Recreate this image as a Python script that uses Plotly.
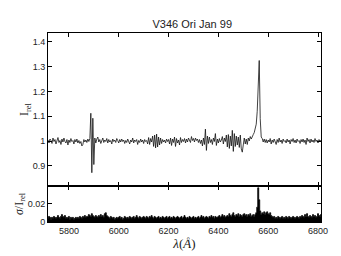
import numpy as np
import plotly.graph_objects as go
from plotly.subplots import make_subplots

# wavelength grid (Angstrom), 4 A sampling
wl_start, wl_step, n_pts = 5716, 4, 275
wavelength = wl_start + wl_step * np.arange(n_pts)

# relative intensity
flux = [
    1.004, 0.992, 1.008, 1.002, 0.990, 1.012, 0.998, 1.006, 0.988, 1.004,
    1.014, 0.994, 1.002, 0.986, 1.008, 0.996, 1.012, 0.998, 0.992, 1.006,
    0.984, 1.004, 0.994, 1.010, 0.998, 1.002, 0.988, 1.006, 0.996, 1.008,
    0.992, 1.002, 0.990, 0.998, 0.980, 0.986, 1.006, 0.996, 1.004, 0.994,
    1.008, 0.998, 1.010, 1.112, 0.872, 1.092, 0.905, 1.012, 0.992, 1.008,
    1.016, 0.996, 1.006, 0.990, 1.002, 1.012, 0.994, 1.004, 0.998, 1.010,
    0.992, 1.006, 0.996, 1.002, 0.988, 1.008, 0.998, 1.004, 0.994, 1.010,
    1.002, 0.992, 1.006, 0.996, 1.008, 0.998, 1.004, 0.990, 1.002, 0.994,
    1.008, 0.998, 0.988, 1.004, 0.996, 1.012, 0.992, 1.004, 0.998, 1.006,
    0.986, 1.002, 0.994, 1.008, 0.996, 1.004, 0.990, 1.006, 0.998, 1.002,
    0.988, 1.014, 0.986, 1.010, 0.996, 1.020, 0.978, 1.024, 0.972, 1.028,
    0.976, 1.016, 0.984, 1.012, 0.990, 1.006, 0.996, 1.004, 0.992, 1.008,
    0.998, 1.006, 0.988, 1.012, 0.982, 1.008, 0.994, 1.016, 0.978, 1.010,
    0.992, 1.004, 0.984, 1.014, 0.994, 1.006, 0.998, 1.010, 0.992, 1.008,
    0.996, 1.012, 1.004, 0.994, 1.018, 1.002, 1.010, 0.996, 1.012, 1.002,
    1.008, 0.994, 1.006, 0.990, 1.004, 0.980, 1.012, 0.986, 1.048, 0.962,
    1.020, 0.990, 1.016, 0.994, 1.006, 0.986, 1.012, 0.998, 1.030, 0.982,
    1.008, 0.992, 1.010, 0.996, 1.004, 1.018, 0.988, 1.012, 0.998, 1.024,
    0.976, 1.026, 0.970, 1.020, 0.980, 1.043, 0.958, 1.030, 0.978, 1.020,
    0.984, 1.016, 0.974, 1.024, 0.968, 0.955, 0.984, 1.012, 0.988, 1.008,
    0.986, 1.012, 1.000, 1.018, 1.008, 1.020, 1.026, 1.034, 1.048, 1.068,
    1.120, 1.240, 1.325, 1.090, 1.016, 1.010, 0.996, 1.008, 0.994, 1.006,
    0.992, 1.004, 0.996, 1.010, 0.988, 1.004, 0.994, 1.008, 0.998, 0.986,
    1.006, 0.994, 1.012, 0.996, 1.004, 0.990, 1.008, 0.998, 1.002, 0.992,
    1.008, 0.996, 1.004, 0.988, 1.006, 0.998, 1.010, 0.994, 1.004, 0.992,
    1.008, 0.998, 1.002, 0.990, 1.006, 0.996, 1.008, 0.994, 1.004, 0.986,
    1.012, 0.998, 1.006, 0.992, 1.008, 0.996, 1.004, 0.994, 1.010, 0.998,
    1.004, 0.992, 1.006, 0.998, 1.004,
]

# sigma / I_rel
sigma = [
    0.004, 0.006, 0.005, 0.003, 0.005, 0.004, 0.006, 0.005, 0.004, 0.005,
    0.007, 0.005, 0.004, 0.006, 0.008, 0.006, 0.005, 0.007, 0.004, 0.005,
    0.004, 0.006, 0.003, 0.005, 0.004, 0.005, 0.003, 0.004, 0.005, 0.004,
    0.005, 0.004, 0.006, 0.005, 0.004, 0.006, 0.005, 0.007, 0.005, 0.006,
    0.006, 0.008, 0.007, 0.006, 0.009, 0.007, 0.006, 0.005, 0.007, 0.006,
    0.005, 0.007, 0.006, 0.008, 0.006, 0.007, 0.005, 0.009, 0.010, 0.007,
    0.006, 0.005, 0.004, 0.006, 0.005, 0.004, 0.005, 0.003, 0.004, 0.005,
    0.004, 0.005, 0.006, 0.004, 0.005, 0.003, 0.004, 0.006, 0.005, 0.004,
    0.005, 0.004, 0.006, 0.005, 0.004, 0.005, 0.006, 0.004, 0.005, 0.007,
    0.005, 0.004, 0.006, 0.005, 0.004, 0.005, 0.006, 0.005, 0.004, 0.006,
    0.005, 0.004, 0.006, 0.005, 0.007, 0.005, 0.004, 0.006, 0.005, 0.004,
    0.005, 0.006, 0.004, 0.005, 0.004, 0.006, 0.005, 0.004, 0.005, 0.006,
    0.004, 0.005, 0.006, 0.004, 0.005, 0.004, 0.006, 0.005, 0.004, 0.005,
    0.006, 0.005, 0.004, 0.005, 0.006, 0.004, 0.005, 0.007, 0.005, 0.004,
    0.005, 0.004, 0.006, 0.005, 0.004, 0.005, 0.006, 0.004, 0.005, 0.004,
    0.005, 0.006, 0.004, 0.005, 0.007, 0.005, 0.006, 0.004, 0.005, 0.006,
    0.005, 0.004, 0.006, 0.005, 0.007, 0.005, 0.006, 0.004, 0.006, 0.005,
    0.005, 0.006, 0.007, 0.005, 0.006, 0.008, 0.006, 0.007, 0.005, 0.006,
    0.007, 0.006, 0.009, 0.007, 0.006, 0.008, 0.010, 0.007, 0.006, 0.008,
    0.007, 0.009, 0.006, 0.008, 0.007, 0.006, 0.008, 0.009, 0.007, 0.008,
    0.006, 0.008, 0.007, 0.009, 0.006, 0.007, 0.008, 0.006, 0.008, 0.010,
    0.016, 0.037, 0.024, 0.012, 0.008, 0.010, 0.009, 0.011, 0.008, 0.010,
    0.011, 0.009, 0.008, 0.010, 0.007, 0.006, 0.005, 0.006, 0.004, 0.005,
    0.004, 0.006, 0.005, 0.004, 0.005, 0.006, 0.004, 0.005, 0.004, 0.006,
    0.005, 0.004, 0.006, 0.005, 0.004, 0.005, 0.006, 0.005, 0.004, 0.005,
    0.006, 0.005, 0.004, 0.006, 0.005, 0.007, 0.006, 0.005, 0.008, 0.006,
    0.009, 0.006, 0.005, 0.007, 0.006, 0.005, 0.008, 0.006, 0.007, 0.005,
    0.006, 0.009, 0.007, 0.006, 0.008,
]

x_ticks = [5800, 6000, 6200, 6400, 6600, 6800]
y1_ticks = [0.9, 1.0, 1.1, 1.2, 1.3, 1.4]
y1_labels = ["0.9", "1", "1.1", "1.2", "1.3", "1.4"]
y2_ticks = [0, 0.02]
y2_labels = ["0", "0.02"]

# the page body has an 8px margin; size the figure so the plot lands where the reference has it
PAGE_OFFSET = 8
FIG_W, FIG_H = 341 - PAGE_OFFSET, 256 - PAGE_OFFSET

fig = make_subplots(rows=2, cols=1, shared_xaxes=True, vertical_spacing=0,
                    row_heights=[0.81, 0.19])

fig.add_trace(go.Scatter(x=wavelength, y=flux, mode="lines",
                         line=dict(color="#111111", width=0.8),
                         showlegend=False), row=1, col=1)
fig.add_trace(go.Scatter(x=wavelength, y=sigma, mode="lines", fill="tozeroy",
                         fillcolor="#000000",
                         line=dict(color="#000000", width=0.8, shape="hvh"),
                         showlegend=False), row=2, col=1)

axis_common = dict(showline=True, linecolor="#000000", linewidth=1,
                   mirror="ticks", ticks="inside", ticklen=4,
                   tickcolor="#000000", showgrid=False, zeroline=False,
                   automargin=False,
                   tickfont=dict(family="Liberation Sans", size=9, color="#222222"))

fig.update_xaxes(range=[5716, 6812], tickvals=x_ticks, **axis_common)
fig.update_xaxes(showticklabels=False, row=1, col=1)
fig.update_xaxes(title=dict(text="<i>λ</i>(<i>Å</i>)", standoff=1,
                            font=dict(family="Liberation Serif", size=13, color="#222222")),
                 row=2, col=1)
fig.update_yaxes(**axis_common)
fig.update_yaxes(range=[0.818, 1.436], tickvals=y1_ticks, ticktext=y1_labels,
                 title=dict(text="I<sub>rel</sub>", standoff=1,
                            font=dict(family="Liberation Serif", size=12, color="#222222")),
                 row=1, col=1)
fig.update_yaxes(range=[0, 0.0388], tickvals=y2_ticks, ticktext=y2_labels,
                 title=dict(text="<i>σ</i>/I<sub>rel</sub>", standoff=1,
                            font=dict(family="Liberation Serif", size=12, color="#222222")),
                 row=2, col=1)

fig.update_layout(
    width=FIG_W, height=FIG_H,
    margin=dict(l=48 - PAGE_OFFSET, r=20, t=33 - PAGE_OFFSET, b=34),
    paper_bgcolor="white", plot_bgcolor="white",
    title=dict(text="V346 Ori Jan 99", x=(184 - PAGE_OFFSET) / FIG_W, xanchor="center",
               xref="paper", y=1 - (24 - PAGE_OFFSET) / FIG_H, yanchor="middle",
               font=dict(family="Liberation Sans", size=11, color="#222222")),
)

fig.write_html("out.html")
